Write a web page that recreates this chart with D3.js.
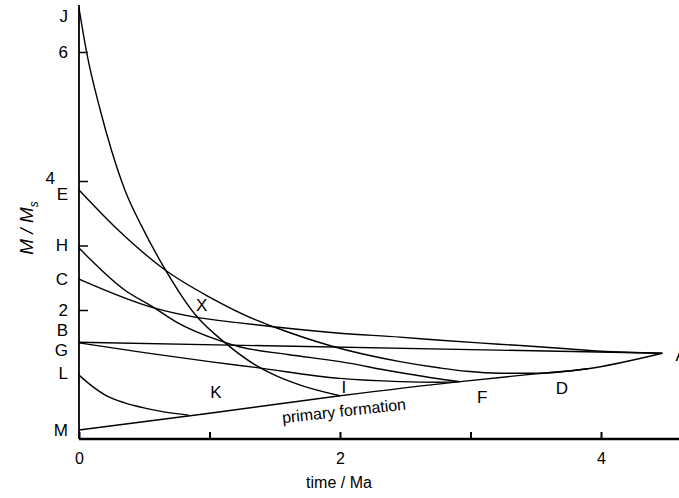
<!DOCTYPE html>
<html><head><meta charset="utf-8">
<script src="https://cdn.jsdelivr.net/npm/d3@7"></script>
<style>
html,body{margin:0;padding:0;background:#fff;}
svg{display:block;font-family:"Liberation Sans",Arial,Helvetica,sans-serif;}
</style></head>
<body>
<svg id="c" width="679" height="498"></svg>
<script>
// ---- data (time in Ma, value in M/Ms) ----
const primaryFormation = [[0,0.14],[1,0.40],[2,0.67],[2.92,0.89],[3.5,1.01],[3.9,1.09],[4.47,1.33]];
const curveJ = [[0,6.68],[0.06,5.98],[0.16,5.12],[0.25,4.47],[0.35,3.87],[0.48,3.3],[0.64,2.7],[0.89,1.93],[1.12,1.49],[1.35,1.15],[1.5,0.99],[1.69,0.84],[2.0,0.67]];
const curveE = [[0,3.86],[0.30,3.24],[0.66,2.62],[1.0,2.2],[1.35,1.85],[1.49,1.74],[1.92,1.45],[2.46,1.2],[2.77,1.10],[2.97,1.05],[3.22,1.02],[3.5,1.02],[3.9,1.09]];
const curveH = [[0,2.96],[0.35,2.31],[0.58,2.03],[0.74,1.82],[1.1,1.51],[1.23,1.43],[1.6,1.31],[2.0,1.2],[2.4,1.05],[2.7,0.95],[2.92,0.89]];
const curveC = [[0,2.48],[0.58,2.03],[0.89,1.89],[1.23,1.80],[1.49,1.74],[2.0,1.64],[2.46,1.58],[2.77,1.53],[3.22,1.47],[3.74,1.40],[4.0,1.36],[4.47,1.33]];
const curveB = [[0,1.50],[4.47,1.33]];
const curveG = [[0,1.49],[0.5,1.34],[1.0,1.2],[1.35,1.11],[2.0,0.94],[2.46,0.89],[2.75,0.88],[2.92,0.89]];
const curveL = [[0,0.99],[0.1,0.82],[0.22,0.66],[0.35,0.56],[0.48,0.49],[0.65,0.42],[0.84,0.37]];

const xTickValues = [0,1,2,3,4];
const xTickLabels = ["0","","2","","4"];
const yTickValues = [2,3,4,6];
const yTickLabels = ["2","","4","6"];
const yLetterLabels = ["J","E","H","C","B","G","L","M"];
const yLetterValues = [6.56,3.80,3.01,2.49,1.69,1.38,1.02,0.14];
const pointLabels = ["X","K","I","F","D","A","primary formation"];
const pointLabelT = [0.94,1.05,2.03,3.09,3.70,4.57,2.03];
const pointLabelV = [2.08,0.73,0.81,0.65,0.79,1.30,0.44];
const xTitle = "time / Ma";

// ---- chart ----
const svg = d3.select("#c");
const x = d3.scaleLinear().domain([0,4.6]).range([79,679.3]);
const y = d3.scaleLinear().domain([0,6]).range([439,52]);

const line = d3.line().x(d=>x(d[0])).y(d=>y(d[1])).curve(d3.curveMonotoneX);
const series = [primaryFormation, curveJ, curveE, curveH, curveC, curveB, curveG, curveL];
svg.append("g").selectAll("path").data(series).join("path")
  .attr("d", line).attr("fill","none").attr("stroke","#000").attr("stroke-width",1.4);

// x axis
const xAxis = d3.axisBottom(x).tickValues(xTickValues)
  .tickFormat((d,i)=>xTickLabels[i]).tickSize(-7).tickSizeOuter(0).tickPadding(14);
const gx = svg.append("g").attr("transform","translate(0,439)").call(xAxis);
gx.select(".domain").attr("stroke","#000").attr("stroke-width",2.5).attr("d","M79,0H679");
gx.selectAll(".tick line").attr("stroke","#000").attr("stroke-width",2);
gx.selectAll(".tick text").attr("font-size",16).attr("fill","#000");

// y axis
const yAxis = d3.axisLeft(y).tickValues(yTickValues)
  .tickFormat((d,i)=>yTickLabels[i]).tickSize(-9).tickSizeOuter(0).tickPadding(11);
const gy = svg.append("g").attr("transform","translate(79,0)").call(yAxis);
gy.select(".domain").attr("stroke","#000").attr("stroke-width",1.8).attr("d","M0,439V5");
gy.selectAll(".tick line").attr("stroke","#000").attr("stroke-width",1.5);
gy.selectAll(".tick text").attr("font-size",17).attr("fill","#000")
  .attr("transform",d=> d===4 ? "translate(-13,-3)" : null);

// y letter labels
svg.append("g").selectAll("text").data(yLetterLabels).join("text")
  .attr("x",68).attr("y",(d,i)=>y(yLetterValues[i])).attr("dy","0.36em")
  .attr("text-anchor","end").attr("font-size",17).text(d=>d);

// point labels
svg.append("g").selectAll("text").data(pointLabels).join("text")
  .attr("x",(d,i)=>x(pointLabelT[i])).attr("y",(d,i)=>y(pointLabelV[i]))
  .attr("dy","0.36em").attr("text-anchor",(d,i)=> d==="A" ? "start" : "middle")
  .attr("font-size",(d)=> d.length>1 ? 16 : 17)
  .attr("transform",(d,i)=> d.length>1 ? `rotate(-6.3,${x(pointLabelT[i])},${y(pointLabelV[i])})` : null)
  .text(d=>d);

// axis titles
svg.append("text").attr("x",339).attr("y",488).attr("text-anchor","middle")
  .attr("font-size",16).text(xTitle);
const yt = svg.append("text").attr("transform","translate(33,228) rotate(-90)")
  .attr("text-anchor","middle").attr("font-size",19).attr("font-style","italic");
yt.append("tspan").text("M / M");
yt.append("tspan").attr("font-size",12).attr("dy",5).text("s");
</script>
</body></html>
